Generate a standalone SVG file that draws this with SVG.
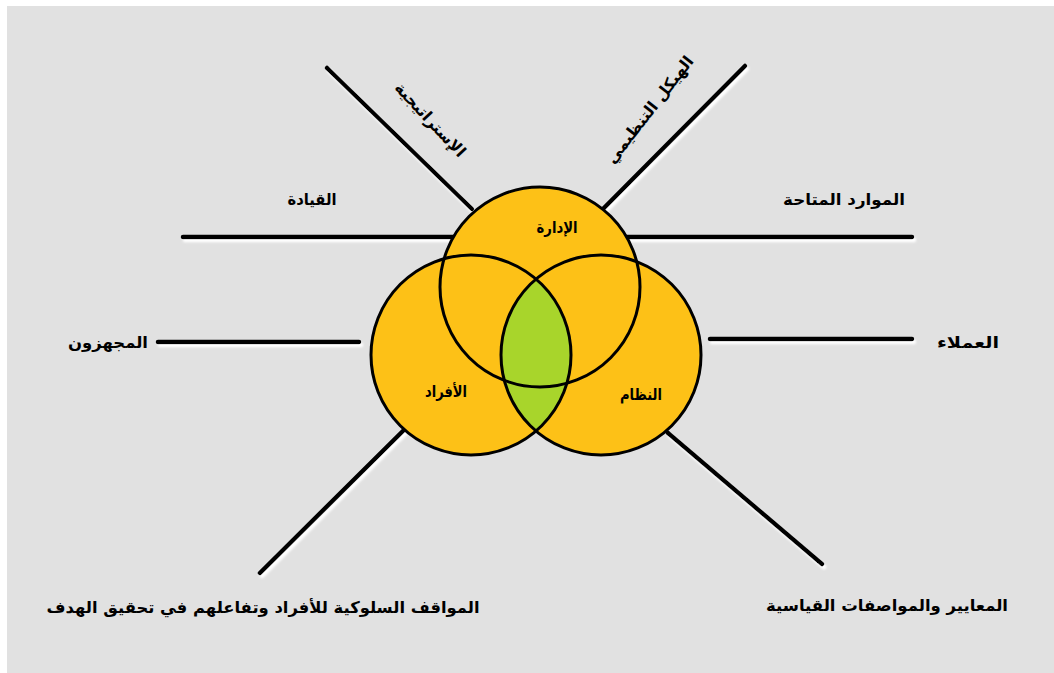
<svg xmlns="http://www.w3.org/2000/svg" width="1054" height="673" viewBox="0 0 1054 673">
<defs>
<style>
.ln{stroke:#000;stroke-width:4.5;stroke-linecap:round;fill:none}
.c{fill:#fdc117}
.cs{fill:none;stroke:#000;stroke-width:3}
.t{font-family:"DejaVu Sans","Noto Sans",sans-serif;font-weight:bold;font-size:16px;fill:#000;text-anchor:middle}
</style>
<filter id="sh" x="-20%" y="-20%" width="140%" height="140%">
<feDropShadow dx="2" dy="3" stdDeviation="1.2" flood-color="#ffffff" flood-opacity="1"/>
</filter>
</defs>
<rect x="0" y="0" width="1054" height="673" fill="#ffffff"/>
<rect x="7" y="6" width="1047" height="667" fill="#e1e1e1"/>

<g id="connectors" filter="url(#sh)">
<line class="ln" x1="183" y1="237" x2="455" y2="237"/>
<line class="ln" x1="625" y1="237" x2="912" y2="237"/>
<line class="ln" x1="158" y1="342" x2="359" y2="342"/>
<line class="ln" x1="710" y1="339" x2="912" y2="339"/>
<line class="ln" x1="327" y1="68" x2="472" y2="209"/>
<line class="ln" x1="745" y1="66" x2="603" y2="209"/>
<line class="ln" x1="405" y1="429" x2="260" y2="573"/>
<line class="ln" x1="668" y1="433" x2="822" y2="564"/>
</g>

<g id="venn">
<circle class="c" cx="540" cy="287" r="100"/>
<circle class="c" cx="471" cy="355" r="100"/>
<circle class="c" cx="601" cy="355" r="100"/>
<path d="M536,279 A100,100 0 0 1 536,431 A100,100 0 0 1 536,279 Z" fill="#a8d52b"/>
<circle class="cs" cx="540" cy="287" r="100"/>
<circle class="cs" cx="471" cy="355" r="100"/>
<circle class="cs" cx="601" cy="355" r="100"/>
</g>

<g id="node-management"><text class="t" x="557" y="233" font-size="14" textLength="41" lengthAdjust="spacingAndGlyphs">الإدارة</text></g>
<g id="node-people"><text class="t" x="446" y="397" font-size="14" textLength="42" lengthAdjust="spacingAndGlyphs">الأفراد</text></g>
<g id="node-system"><text class="t" x="641" y="400" font-size="14" textLength="42" lengthAdjust="spacingAndGlyphs">النظام</text></g>

<g id="label-leadership"><text class="t" x="312" y="205" textLength="49" lengthAdjust="spacingAndGlyphs">القيادة</text></g>
<g id="label-resources"><text class="t" x="844" y="205" textLength="122" lengthAdjust="spacingAndGlyphs">الموارد المتاحة</text></g>
<g id="label-suppliers"><text class="t" x="108" y="348" textLength="80" lengthAdjust="spacingAndGlyphs">المجهزون</text></g>
<g id="label-customers"><text class="t" x="968" y="348" textLength="62" lengthAdjust="spacingAndGlyphs">العملاء</text></g>
<g id="label-strategy"><text class="t" transform="translate(430,120) rotate(47)" x="0" y="5">الإستراتيجية</text></g>
<g id="label-structure"><text class="t" transform="translate(650,110) rotate(-52)" x="0" y="5">الهيكل التنظيمي</text></g>
<g id="label-behaviour"><text class="t" x="263" y="613" textLength="433" lengthAdjust="spacingAndGlyphs">المواقف السلوكية للأفراد وتفاعلهم في تحقيق الهدف</text></g>
<g id="label-standards"><text class="t" x="887" y="611" textLength="242" lengthAdjust="spacingAndGlyphs">المعايير والمواصفات القياسية</text></g>
</svg>
